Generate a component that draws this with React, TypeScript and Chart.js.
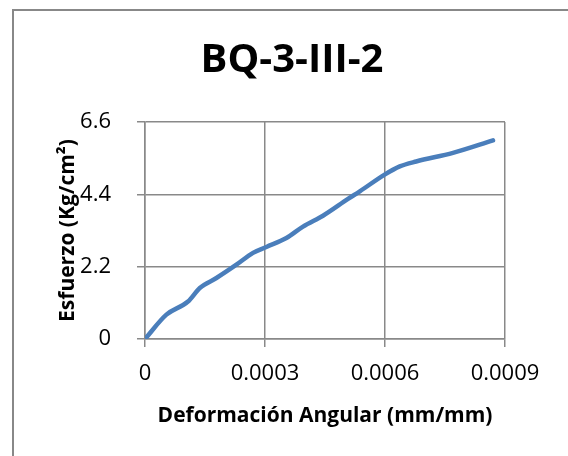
import React, { useEffect, useRef } from "react";
import { Chart, registerables } from "chart.js";

Chart.register(...registerables);

const chartTitle = "BQ-3-III-2";
const xAxisTitle = "Deformación Angular (mm/mm)";
const yAxisTitle = "Esfuerzo (Kg/cm²)";

const strainValues = [
  0, 0.0000535, 0.0001075, 0.000137, 0.0001785, 0.0002285, 0.00027, 0.0003035,
  0.0003535, 0.000395, 0.000445, 0.0005075, 0.000537, 0.000599, 0.000637,
  0.000678, 0.00077, 0.00087,
];
const stressValues = [
  0, 0.74, 1.14, 1.55, 1.855, 2.26, 2.62, 2.8, 3.07, 3.42, 3.75, 4.26, 4.49, 5.0,
  5.25, 5.4, 5.66, 6.04,
];

const xTickValues = [0, 0.0003, 0.0006, 0.0009];
const xTickLabels = ["0", "0.0003", "0.0006", "0.0009"];
const yTickValues = [0, 2.2, 4.4, 6.6];
const yTickLabels = ["0", "2.2", "4.4", "6.6"];

const FONT = "'Open Sans', 'DejaVu Sans', sans-serif";
const GRID = "#898989";

export default function App() {
  const canvasRef = useRef<HTMLCanvasElement | null>(null);

  useEffect(() => {
    const canvas = canvasRef.current;
    if (!canvas) return;
    const points = strainValues.map((x, i) => ({ x, y: stressValues[i] }));
    const chart = new Chart(canvas, {
      type: "line",
      data: {
        datasets: [
          {
            data: points,
            borderColor: "#4A7EBB",
            borderWidth: 4.5,
            pointRadius: 0,
            cubicInterpolationMode: "monotone",
            borderCapStyle: "round",
            fill: false,
            yAxisID: "y",
          },
        ],
      },
      options: {
        responsive: false,
        animation: false,
        layout: { padding: 0 },
        plugins: {
          legend: { display: false },
          tooltip: { enabled: false },
          title: {
            display: true,
            text: chartTitle,
            color: "#000",
            font: { family: FONT, size: 40, weight: "bold", lineHeight: 1.2 },
            padding: { top: 37, bottom: 37 },
          },
        },
        scales: {
          x: {
            type: "linear",
            min: 0,
            max: 0.0009,
            afterBuildTicks: (scale: any) => {
              scale.ticks = xTickValues.map((v) => ({ value: v }));
            },
            afterFit: (scale: any) => {
              scale.height = 117;
            },
            ticks: {
              color: "#000",
              padding: 14,
              maxRotation: 0,
              font: { family: FONT, size: 22 },
              callback: (v: any) => {
                const i = xTickValues.findIndex((t) => Math.abs(t - Number(v)) < 1e-9);
                return i >= 0 ? xTickLabels[i] : "";
              },
            },
            grid: { color: GRID, lineWidth: 1.5, tickLength: 8, tickColor: GRID },
            border: { color: GRID, width: 1.5 },
            title: {
              display: true,
              text: xAxisTitle,
              color: "#000",
              font: { family: FONT, size: 21, weight: "bold", lineHeight: 1.2 },
              padding: { top: 0, bottom: 27 },
            },
          },
          y: {
            type: "linear",
            position: "left",
            min: 0,
            max: 6.6,
            afterBuildTicks: (scale: any) => {
              scale.ticks = yTickValues.map((v) => ({ value: v }));
            },
            afterFit: (scale: any) => {
              scale.width = 145;
            },
            ticks: {
              color: "#000",
              padding: 26,
              font: { family: FONT, size: 22 },
              callback: (v: any) => {
                const i = yTickValues.findIndex((t) => Math.abs(t - Number(v)) < 1e-9);
                return i >= 0 ? yTickLabels[i] : "";
              },
            },
            grid: { color: GRID, lineWidth: 1.5, tickLength: 8, tickColor: GRID },
            border: { color: GRID, width: 1.5 },
            title: {
              display: true,
              text: yAxisTitle,
              color: "#000",
              font: { family: FONT, size: 21, weight: "bold", lineHeight: 1.2 },
              padding: { top: 55, bottom: 0 },
            },
          },
          yRight: {
            type: "linear",
            position: "right",
            min: 0,
            max: 6.6,
            afterFit: (scale: any) => {
              scale.width = 79;
            },
            ticks: { display: false },
            grid: { display: false, drawOnChartArea: false },
            border: { display: false },
          },
        },
      },
    } as any);
    return () => chart.destroy();
  }, []);

  return (
    <div style={{ position: "fixed", left: 0, top: 0, width: 568, height: 456, background: "#fff", overflow: "hidden" }}>
      <div
        style={{
          position: "absolute",
          left: 12,
          top: 9,
          width: 600,
          height: 500,
          borderLeft: "2px solid #888",
          borderTop: "2px solid #888",
        }}
      />
      <canvas
        ref={canvasRef}
        width={584}
        height={456}
        style={{ position: "absolute", left: 0, top: 0, width: 584, height: 456 }}
      />
    </div>
  );
}
